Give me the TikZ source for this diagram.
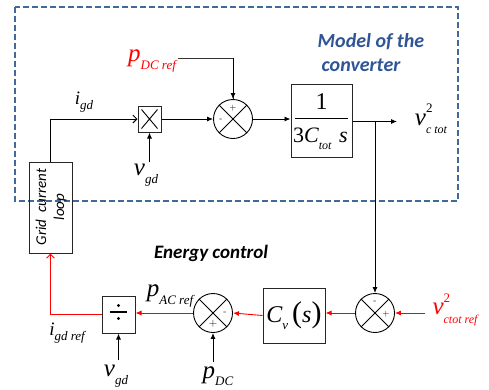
\documentclass[tikz,border=0pt]{standalone}
\usepackage{fontspec}
\setmainfont{Carlito}
\newfontfamily\tms{Liberation Serif}
\usetikzlibrary{arrows.meta}
\definecolor{dashblue}{RGB}{66,104,156}
\definecolor{txtblue}{RGB}{47,85,151}
\definecolor{cred}{RGB}{255,0,0}
\newcommand\vv[3]{{\tms\itshape\fontsize{#1}{#1}\selectfont #2\raisebox{-0.3em}{\fontsize{13}{13}\selectfont #3}}}
\begin{document}
\begin{tikzpicture}[x=1pt,y=-1pt,
  blk/.style={draw=black!85,line width=1pt,minimum width=#1,inner sep=0pt},
  sumc/.style={draw=black,line width=0.9pt,circle,minimum size=39pt,inner sep=0pt},
  wire/.style={line width=0.9pt},
  arr/.style={wire,-{Latex[length=6pt,width=5pt]}},
  oarr/.style={wire,-{Straight Barb[length=4pt,width=8pt]}},
  sgn/.style={font=\fontsize{9}{9}\selectfont\sffamily,inner sep=0pt},
  lbl/.style={inner sep=0pt}]
\useasboundingbox (0,0) rectangle (489,389);
% dashed model box
\draw[dashblue,line width=1.6pt,dash pattern=on 6pt off 3pt] (15,7) rectangle (458,201);
\node[font=\bfseries\itshape\fontsize{20}{20}\selectfont,text=txtblue] (m1) at (371,42) {Model of the};
\node[font=\bfseries\itshape\fontsize{20}{20}\selectfont,text=txtblue] (m2) at (361,65) {converter};
\node[font=\bfseries\itshape\fontsize{19}{19}\selectfont] (ec) at (211,253) {Energy control};
% blocks
\node[blk=23pt,minimum height=26pt] (mult) at (149.5,119) {};
\draw[line width=0.9pt] ([shift={(4,4)}]mult.north west) -- ([shift={(-4,-4)}]mult.south east)
  ([shift={(-4,4)}]mult.north east) -- ([shift={(4,-4)}]mult.south west);
\node[sumc] (s1) at (233,119) {};
\draw[line width=0.9pt] (s1.north west) -- (s1.south east) (s1.north east) -- (s1.south west);
\node[sgn] at (233,108) {+};
\node[sgn] at (221,120) {-};
\node[blk=61pt,minimum height=73pt] (tf) at (321.5,120.5) {};
\node[lbl,font=\tms\fontsize{24}{24}\selectfont] (one) at (321.5,102) {1};
\draw[line width=0.9pt] (295,118) -- (348,118);
\node[lbl] (den) at (320.5,139) {{\tms\fontsize{22}{22}\selectfont 3\itshape C\raisebox{-0.3em}{\fontsize{12}{12}\selectfont tot}\hspace{0.35em}s}};
\node[sumc] (s2) at (375,313) {};
\draw[line width=0.9pt] (s2.north west) -- (s2.south east) (s2.north east) -- (s2.south west);
\node[sgn] at (375,302) {-};
\node[sgn] at (386,314) {+};
\node[blk=62pt,minimum height=55pt] (cv) at (294,315.5) {};
\node[lbl] at (294,315.5) {{\tms\fontsize{24}{24}\selectfont\itshape C\raisebox{-0.3em}{\fontsize{13}{13}\selectfont v}\,\upshape\fontsize{30}{30}\selectfont(\fontsize{24}{24}\selectfont\itshape s\upshape\fontsize{30}{30}\selectfont)}};
\node[sumc] (s3) at (213,313) {};
\draw[line width=0.9pt] (s3.north west) -- (s3.south east) (s3.north east) -- (s3.south west);
\node[sgn] at (225,313) {-};
\node[sgn,font=\fontsize{11}{11}\selectfont\sffamily] at (213,324) {+};
\node[blk=33pt,minimum height=37pt] (div) at (118.5,314.5) {};
\draw[line width=1.4pt] (110,312) -- (127,312);
\fill (118.5,305.5) circle (1.7pt) (118.5,318.5) circle (1.7pt);
\node[blk=43pt,minimum height=91pt] (grid) at (50.5,207.5) {};
\node[rotate=90,align=center,font=\itshape\fontsize{15}{18}\selectfont] at (51,207) {Grid\ \ current\\loop};
% labels
\node[lbl,text=cred] (pdcref) at (152,61) {\vv{25}{p}{DC ref}};
\node[lbl] (igd) at (84,102) {\vv{19}{i}{gd}};
\node[lbl] (vgd1) at (146,175) {\vv{25}{v}{gd}};
\node[lbl] (vct) at (431,119) {{\tms\itshape\fontsize{25}{25}\selectfont v\rlap{\raisebox{0.5em}{\upshape\fontsize{13}{13}\selectfont 2}}\raisebox{-0.35em}{\fontsize{12}{12}\selectfont c tot}}};
\node[lbl,text=cred] (vctref) at (455,310) {{\tms\itshape\fontsize{25}{25}\selectfont v\rlap{\raisebox{0.5em}{\upshape\fontsize{13}{13}\selectfont 2}}\raisebox{-0.35em}{\fontsize{12}{12}\selectfont ctot ref}}};
\node[lbl] (pacref) at (170,296) {\vv{25}{p}{AC ref}};
\node[lbl] (igdref) at (67,333) {\vv{19}{i}{gd ref}};
\node[lbl] (vgd2) at (116,376) {\vv{25}{v}{gd}};
\node[lbl] (pdc) at (218,376) {\vv{25}{p}{DC}};
% coordinates
\coordinate (pr) at (178,58);
\coordinate (out) at (397,121.5);
\coordinate (br) at (375,121.5);
\coordinate (vin) at (425,313);
\coordinate (vg1) at (149.5,162);
\coordinate (vg2) at (118.5,360);
\coordinate (pd) at (213,362);
% connectors
\draw[wire,black!80] (pr) -| (s1.north);
\draw[arr] (pr -| s1) -- (s1.north);
\draw[oarr] (grid.north) |- (mult.west);
\draw[arr] (vg1) -- (mult.south);
\draw[arr] (mult.east) -- (s1.west);
\draw[arr] (s1.east) -- (s1.east -| tf.west);
\draw[arr] (out -| tf.east) -- (out);
\draw[arr] (br) -- (s2.north);
\draw[arr,cred] (vin) -- (s2.east);
\draw[arr,cred] (s2.west) -- (s2.west -| cv.east);
\draw[arr,cred] (cv.west) -- (s3.east);
\draw[arr,cred] (s3.west) -- (s3.west -| div.east);
\draw[arr] (pd) -- (s3.south);
\draw[arr] (vg2) -- (div.south);
\draw[oarr,cred] (div.west) -| (grid.south);
\end{tikzpicture}
\end{document}
